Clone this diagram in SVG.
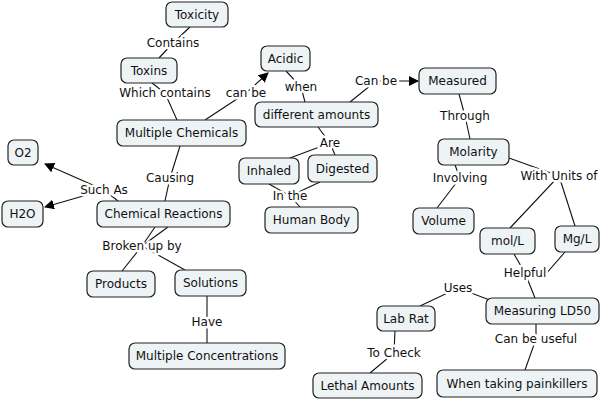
<svg xmlns="http://www.w3.org/2000/svg" width="605" height="401" viewBox="0 0 605 401">
<style>
.n rect{fill:#eef3f5;stroke:#222;stroke-width:1.2}
text{font-family:"DejaVu Sans",Verdana,sans-serif;font-size:12px;fill:#111;text-anchor:middle;dominant-baseline:central}
.c line,.c polyline{stroke:#111;stroke-width:1.1;fill:none}
.l{paint-order:stroke;stroke:#fff;stroke-width:5px;stroke-linejoin:round}
</style>
<defs><marker id="a" viewBox="0 0 10 10" refX="9" refY="5" markerWidth="10" markerHeight="10" markerUnits="userSpaceOnUse" orient="auto"><path d="M0,0L10,5L0,10z" fill="#000"/></marker></defs>
<rect width="605" height="401" fill="#fff"/>
<g class="c">
<polyline points="190,27 173,43 159,58"/>
<polyline points="152,83 165,93 177,120"/>
<polyline points="205,120 246,93 268,73" marker-end="url(#a)"/>
<polyline points="286,71 301,87 305,102"/>
<polyline points="350,102 376,81 418,81" marker-end="url(#a)"/>
<polyline points="459,94 465,116 470,139"/>
<polyline points="318,127 330,143 290,158"/>
<line x1="330" y1="143" x2="335" y2="155"/>
<polyline points="180,146 170,178 165,201"/>
<polyline points="118,201 104,190 45,164" marker-end="url(#a)"/>
<polyline points="104,190 45,207" marker-end="url(#a)"/>
<polyline points="269,184 290,196 300,207"/>
<line x1="290" y1="196" x2="320" y2="182"/>
<polyline points="455,165 460,178 437,208"/>
<polyline points="509,158 559,176 510,228"/>
<line x1="559" y1="176" x2="575" y2="226"/>
<polyline points="155,227 142,246 122,271"/>
<polyline points="168,227 142,246"/>
<line x1="142" y1="246" x2="185" y2="270"/>
<polyline points="514,254 525,273 535,298"/>
<polyline points="565,252 545,275 525,273"/>
<polyline points="495,302 458,288 420,306"/>
<polyline points="207,296 207,322 207,343"/>
<polyline points="395,331 394,353 370,373"/>
<polyline points="536,324 536,339 525,370"/>
</g>
<g class="c" id="labels">
<text class="l" x="173" y="43">Contains</text>
<text class="l" x="165" y="93">Which contains</text>
<text class="l" x="246" y="93">can be</text>
<text class="l" x="301" y="87">when</text>
<text class="l" x="376" y="81">Can be</text>
<text class="l" x="465" y="116">Through</text>
<text class="l" x="330" y="143">Are</text>
<text class="l" x="170" y="178">Causing</text>
<text class="l" x="104" y="190">Such As</text>
<text class="l" x="290" y="196">In the</text>
<text class="l" x="460" y="178">Involving</text>
<text class="l" x="559" y="176">With Units of</text>
<text class="l" x="142" y="246">Broken up by</text>
<text class="l" x="525" y="273">Helpful</text>
<text class="l" x="458" y="288">Uses</text>
<text class="l" x="207" y="322">Have</text>
<text class="l" x="394" y="353">To Check</text>
<text class="l" x="536" y="339">Can be useful</text>
</g>
<g class="n" id="toxicity"><rect x="166" y="2" width="62" height="25" rx="6"/><text x="197" y="14.5">Toxicity</text></g>
<g class="n" id="toxins"><rect x="121" y="58" width="56" height="25" rx="6"/><text x="149" y="70.5">Toxins</text></g>
<g class="n" id="acidic"><rect x="261" y="46" width="49" height="25" rx="6"/><text x="285.5" y="58.5">Acidic</text></g>
<g class="n" id="measured"><rect x="419" y="68" width="77" height="26" rx="6"/><text x="457.5" y="81">Measured</text></g>
<g class="n" id="different"><rect x="255" y="102" width="123" height="25" rx="6"/><text x="316.5" y="114.5">different amounts</text></g>
<g class="n" id="chemicals"><rect x="117" y="120" width="129" height="26" rx="6"/><text x="181.5" y="133">Multiple Chemicals</text></g>
<g class="n" id="molarity"><rect x="438" y="139" width="71" height="26" rx="6"/><text x="473.5" y="152">Molarity</text></g>
<g class="n" id="o2"><rect x="8" y="140" width="30" height="25" rx="6"/><text x="23" y="152.5">O2</text></g>
<g class="n" id="inhaled"><rect x="239" y="158" width="60" height="26" rx="6"/><text x="269" y="171">Inhaled</text></g>
<g class="n" id="digested"><rect x="308" y="155" width="69" height="27" rx="6"/><text x="342.5" y="168.5">Digested</text></g>
<g class="n" id="h2o"><rect x="2" y="201" width="41" height="26" rx="6"/><text x="22.5" y="214">H2O</text></g>
<g class="n" id="reactions"><rect x="97" y="201" width="133" height="26" rx="6"/><text x="163.5" y="214">Chemical Reactions</text></g>
<g class="n" id="body"><rect x="265" y="207" width="93" height="26" rx="6"/><text x="311.5" y="220">Human Body</text></g>
<g class="n" id="volume"><rect x="413" y="208" width="61" height="26" rx="6"/><text x="443.5" y="221">Volume</text></g>
<g class="n" id="moll"><rect x="480" y="228" width="55" height="26" rx="6"/><text x="507.5" y="241">mol/L</text></g>
<g class="n" id="mgl"><rect x="555" y="226" width="44" height="26" rx="6"/><text x="577" y="239">Mg/L</text></g>
<g class="n" id="products"><rect x="87" y="271" width="68" height="26" rx="6"/><text x="121" y="284">Products</text></g>
<g class="n" id="solutions"><rect x="175" y="270" width="71" height="26" rx="6"/><text x="210.5" y="283">Solutions</text></g>
<g class="n" id="ld50"><rect x="486" y="298" width="113" height="26" rx="6"/><text x="542.5" y="311">Measuring LD50</text></g>
<g class="n" id="labrat"><rect x="377" y="306" width="58" height="25" rx="6"/><text x="406" y="318.5">Lab Rat</text></g>
<g class="n" id="concentrations"><rect x="129" y="343" width="156" height="26" rx="6"/><text x="207" y="356">Multiple Concentrations</text></g>
<g class="n" id="lethal"><rect x="313" y="373" width="109" height="25" rx="6"/><text x="367.5" y="385.5">Lethal Amounts</text></g>
<g class="n" id="painkillers"><rect x="437" y="370" width="160" height="27" rx="6"/><text x="517" y="383.5">When taking painkillers</text></g>
</svg>
